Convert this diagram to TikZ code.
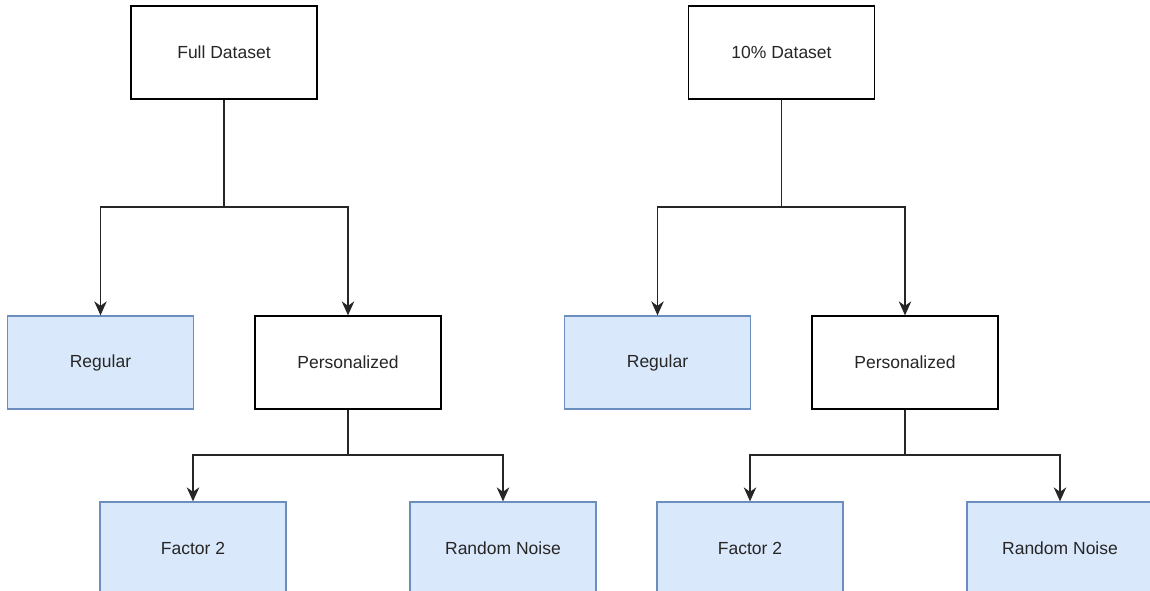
\documentclass[tikz,border=0pt]{standalone}
\usepackage{fontspec}
\setmainfont{Liberation Sans}
\usetikzlibrary{arrows.meta}
\definecolor{bluefill}{HTML}{DAE8FC}
\definecolor{blueline}{HTML}{6C8EBF}
\tikzset{
  box/.style={draw=black, line width=1.3pt, fill=white, minimum width=186pt, minimum height=93pt,
    inner sep=0pt, font=\fontsize{17.5}{21}\selectfont, text=black!85},
  leaf/.style={box, draw=blueline, fill=bluefill},
  link/.style={line width=1.4pt, draw=black!85},
  arrowlink/.style={link, -{Stealth[length=14pt, width=12.5pt, inset=4.5pt]}},
}
\begin{document}
\begin{tikzpicture}[x=1pt, y=-1pt]
  \useasboundingbox (0,0) rectangle (1150,591);
  \clip (0,0) rectangle (1150,591);
  \fill[white] (0,0) rectangle (1150,591);

  % left tree: full dataset
  \node[box]  (full)  at (224,52.5)  {Full Dataset};
  \node[leaf] (regA)  at (100.5,362.5) {Regular};
  \node[box]  (persA) at (348,362.5) {Personalized};
  \node[leaf] (facA)  at (193,548.5) {Factor 2};
  \node[leaf] (noiA)  at (503,548.5) {Random Noise};
  \coordinate (jA1) at (224,207);
  \coordinate (jA2) at (348,455);

  \draw[link] (full.south) -- (jA1);
  \draw[arrowlink] (jA1) -| (regA.north);
  \draw[arrowlink] (jA1) -| (persA.north);
  \draw[link] (persA.south) -- (jA2);
  \draw[arrowlink] (jA2) -| (facA.north);
  \draw[arrowlink] (jA2) -| (noiA.north);

  % right tree: 10% dataset
  \node[box]  (part)  at (781.5,52.5) {10\% Dataset};
  \node[leaf] (regB)  at (657.5,362.5) {Regular};
  \node[box]  (persB) at (905,362.5) {Personalized};
  \node[leaf] (facB)  at (750,548.5) {Factor 2};
  \node[leaf] (noiB)  at (1060,548.5) {Random Noise};
  \coordinate (jB1) at (781.5,207);
  \coordinate (jB2) at (905,455);

  \draw[link] (part.south) -- (jB1);
  \draw[arrowlink] (jB1) -| (regB.north);
  \draw[arrowlink] (jB1) -| (persB.north);
  \draw[link] (persB.south) -- (jB2);
  \draw[arrowlink] (jB2) -| (facB.north);
  \draw[arrowlink] (jB2) -| (noiB.north);
\end{tikzpicture}
\end{document}
